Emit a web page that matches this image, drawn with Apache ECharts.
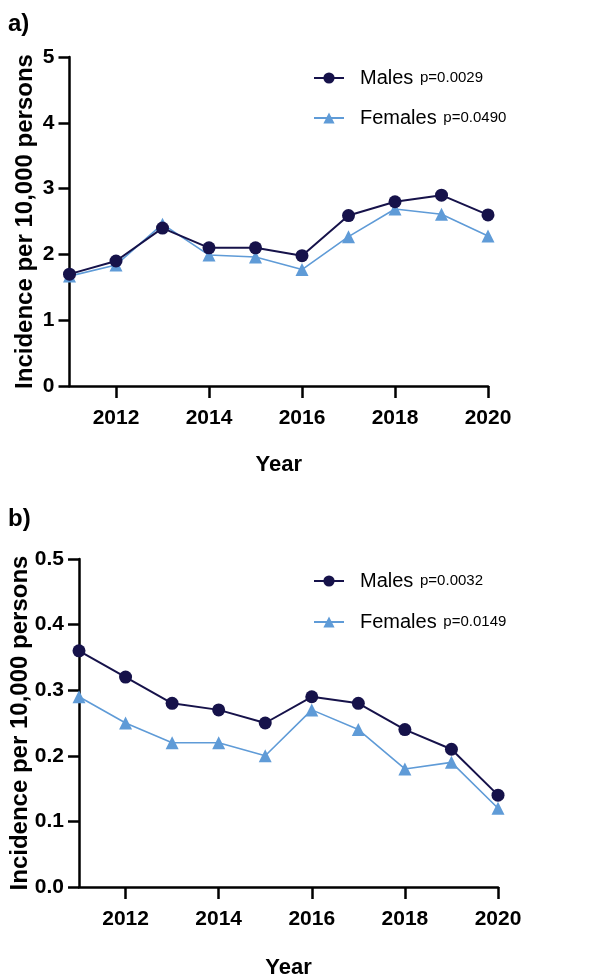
<!DOCTYPE html>
<html><head><meta charset="utf-8">
<script src="https://cdn.jsdelivr.net/npm/echarts@6/dist/echarts.min.js"></script>
<style>html,body{margin:0;padding:0;background:#fff}#c{width:614px;height:977px}</style>
</head><body><div id="c"></div>
<script>
const years = ['2011','2012','2013','2014','2015','2016','2017','2018','2019','2020'];
const aMales   = [1.70, 1.90, 2.40, 2.10, 2.10, 1.98, 2.59, 2.80, 2.90, 2.60];
const aFemales = [1.67, 1.84, 2.46, 1.99, 1.96, 1.77, 2.27, 2.69, 2.61, 2.28];
const bMales   = [0.36, 0.32, 0.28, 0.27, 0.25, 0.29, 0.28, 0.24, 0.21, 0.14];
const bFemales = [0.29, 0.25, 0.22, 0.22, 0.20, 0.27, 0.24, 0.18, 0.19, 0.12];
const aP = {Males: 'p=0.0029', Females: 'p=0.0490'};
const bP = {Males: 'p=0.0032', Females: 'p=0.0149'};
const yTitle = 'Incidence per 10,000 persons';
const xTitle = 'Year';

const MALE = '#16124a', FEMALE = '#5f9bd7';
const FONT = 'Arial, "Liberation Sans", sans-serif';
const chart = echarts.init(document.getElementById('c'), null, {renderer: 'canvas'});

function xAxis(gi, gap) {
  return {
    type: 'category', gridIndex: gi, data: years, boundaryGap: false,
    name: xTitle, nameLocation: 'middle', nameGap: gap, nameMoveOverlap: false,
    nameTextStyle: {fontFamily: FONT, fontWeight: 'bold', fontSize: 22, color: '#000'},
    axisLine: {lineStyle: {color: '#000', width: 2.5}},
    axisTick: {length: 12, lineStyle: {color: '#000', width: 2.5}, interval: (i, v) => (+v) % 2 === 0, alignWithLabel: true},
    axisLabel: {interval: (i, v) => (+v) % 2 === 0, margin: 22, fontFamily: FONT, fontWeight: 'bold', fontSize: 21, color: '#000'},
    splitLine: {show: false}
  };
}
function yAxis(gi, max, interval, dec, gap) {
  return {
    type: 'value', gridIndex: gi, min: 0, max: max, interval: interval,
    name: yTitle, nameLocation: 'middle', nameGap: gap, nameMoveOverlap: false,
    nameTextStyle: {fontFamily: FONT, fontWeight: 'bold', fontSize: 24, color: '#000'},
    axisLine: {show: true, lineStyle: {color: '#000', width: 2.5}},
    axisTick: {show: true, length: 11, lineStyle: {color: '#000', width: 2.5}},
    axisLabel: {margin: 15, fontFamily: FONT, fontWeight: 'bold', fontSize: 21, color: '#000',
      formatter: v => v.toFixed(dec)},
    splitLine: {show: false}
  };
}
function series(name, data, gi, isMale) {
  return {
    name: name, type: 'line', xAxisIndex: gi, yAxisIndex: gi, data: data,
    symbol: isMale ? 'circle' : 'triangle', symbolSize: 13,
    itemStyle: {color: isMale ? MALE : FEMALE},
    lineStyle: {color: isMale ? MALE : FEMALE, width: isMale ? 2 : 1.6},
    z: isMale ? 3 : 2, animation: false
  };
}
function legend(top, gap, names, pmap) {
  return {
    orient: 'vertical', left: 308, top: top, itemWidth: 30, itemHeight: 14, itemGap: gap,
    data: names, selectedMode: false,
    formatter: n => '{n|' + n.replace(/^[ab] /, '') + '}  {p|' + pmap[n.replace(/^[ab] /, '')] + '}',
    textStyle: {rich: {
      n: {fontFamily: FONT, fontSize: 20, color: '#000', padding: [0, 0, 0, 11]},
      p: {fontFamily: FONT, fontSize: 15, color: '#000'}
    }}
  };
}
chart.setOption({
  backgroundColor: '#fff',
  animation: false,
  grid: [
    {left: 69.5, right: 126, top: 57, bottom: 591, outerBoundsMode: 'none', containLabel: false},
    {left: 79, right: 116, top: 559, bottom: 90, outerBoundsMode: 'none', containLabel: false}
  ],
  xAxis: [xAxis(0, 68), xAxis(1, 70)],
  yAxis: [yAxis(0, 5, 1, 0, 32), yAxis(1, 0.5, 0.1, 1, 47)],
  legend: [
    legend(63, 20, ['a Males', 'a Females'], aP),
    legend(566, 21, ['b Males', 'b Females'], bP)
  ],
  graphic: [
    {type: 'text', left: 8, top: 12, style: {text: 'a)', font: 'bold 24px ' + FONT, fill: '#000'}},
    {type: 'text', left: 8, top: 507, style: {text: 'b)', font: 'bold 24px ' + FONT, fill: '#000'}}
  ],
  series: [
    series('a Females', aFemales, 0, false),
    series('a Males', aMales, 0, true),
    series('b Females', bFemales, 1, false),
    series('b Males', bMales, 1, true)
  ]
});
</script></body></html>
